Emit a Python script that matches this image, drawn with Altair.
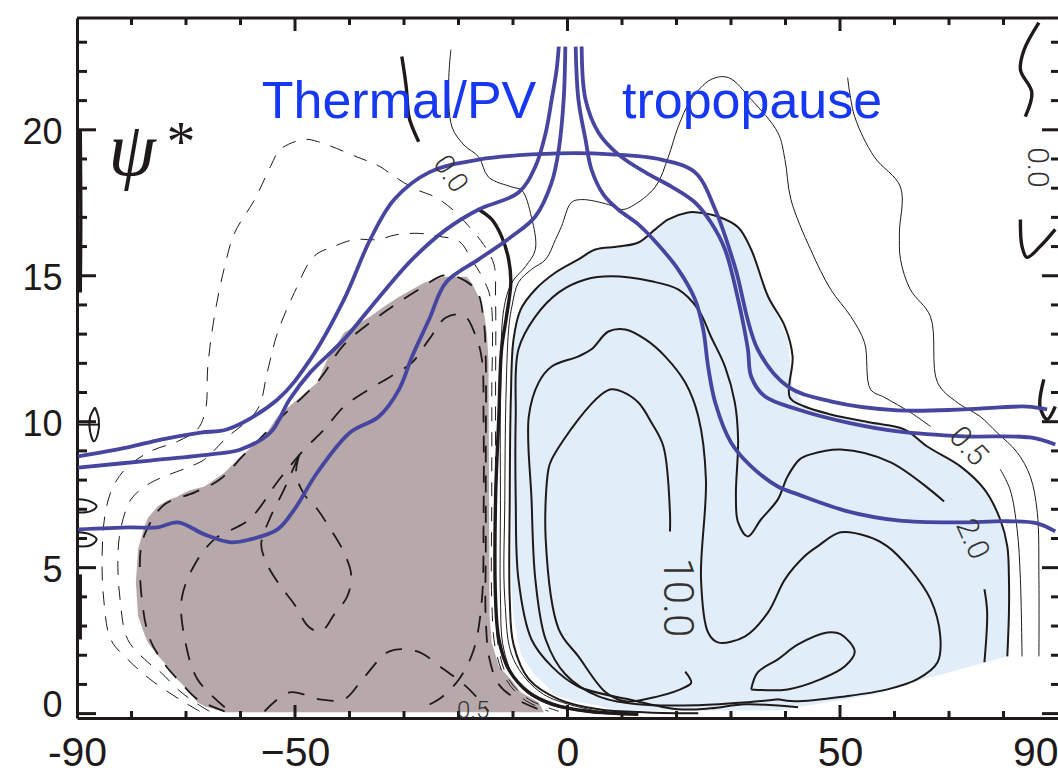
import altair as alt
import pandas as pd

# ---------------- axis values ----------------
X_LABELS = [-90, -50, 0, 50, 90]
Y_LABELS = [0, 5, 10, 15, 20]
X_MINOR = [-80, -70, -60, -40, -30, -20, -10, 10, 20, 30, 40, 60, 70, 80]
X_MAJOR = [-50, 0, 50]
Y_MINOR = [1, 2, 3, 4, 6, 7, 8, 9, 11, 12, 13, 14, 16, 17, 18, 19, 21, 22, 23]
Y_MAJOR = [0, 5, 10, 15, 20]

# ---------------- shaded regions (lat, lower height, upper height) ----------------
BROWN_LAT = [-79.2, -78.8, -77.6, -77.0, -75.2, -73.4, -71.5, -71.0, -69.3, -67.9, -66.6, -62.9, -60.0, -55.6,
             -53.2, -45.9, -44.1, -41.0, -36.2, -33.7, -30.9, -26.3, -22.7, -18.5, -17.6, -16.3, -15.7, -15.2,
             -14.8, -14.5, -14.3, -13.9, -12.6, -9.9, -8.6, -5.3, -4.4]
BROWN_LO = [4.5, 3.34, 2.70, 2.44, 2.0, 1.62, 1.15, 1.07, 0.73, 0.39, 0.25, 0.05, 0.05, 0.05, 0.05, 0.05, 0.05,
            0.05, 0.05, 0.05, 0.05, 0.05, 0.05, 0.05, 0.05, 0.05, 0.05, 0.05, 0.05, 0.05, 0.05, 0.05, 0.05, 0.05,
            0.05, 0.05, 0.05]
BROWN_HI = [4.5, 5.63, 6.41, 6.7, 7.10, 7.3, 7.44, 7.5, 7.65, 7.72, 7.78, 8.26, 8.81, 9.50, 10.18, 11.34, 12.13,
            13.05, 13.60, 13.94, 14.28, 14.76, 14.97, 14.97, 14.76, 14.28, 13.94, 13.60, 13.05, 12.13, 3.34, 2.44,
            1.62, 1.07, 0.73, 0.39, 0.08]

BLUE_LAT = [-10.3, -10.0, -9.0, -8.6, -8.4, -5.9, -4.4, -2.6, -2.2, 2.0, 5.1, 9.3, 13.0, 16.1, 18.5, 22.5, 24.0,
            28.5, 31.6, 33.1, 33.7, 34.4, 35.3, 36.4, 38.2, 38.6, 40.4, 41.3, 43.5, 47.7, 48.3, 55.6, 56.9, 61.8,
            63.3, 66.0, 72.1, 76.5, 79.4, 80.7, 81.0]
BLUE_LO = [4.6, 3.47, 2.44, 2.1, 1.96, 1.3, 1.07, 0.69, 0.63, 0.39, 0.30, 0.11, 0.11, 0.11, 0.11, 0.11, 0.11,
           0.11, 0.11, 0.11, 0.11, 0.11, 0.11, 0.11, 0.11, 0.11, 0.17, 0.19, 0.26, 0.39, 0.41, 0.64, 0.69, 0.99,
           1.07, 1.21, 1.52, 1.75, 1.90, 1.96, 2.3]
BLUE_HI = [12.5, 12.82, 13.5, 13.84, 13.9, 14.53, 14.85, 15.05, 15.11, 15.56, 15.90, 15.98, 16.15, 16.59, 16.93,
           17.17, 17.17, 16.93, 16.59, 16.15, 15.90, 15.56, 15.11, 14.53, 13.84, 13.6, 12.82, 11.2, 10.52, 10.28,
           10.25, 9.97, 9.92, 9.74, 9.6, 9.15, 8.47, 7.68, 6.65, 5.73, 4.6]

# ---------------- thermal / PV tropopause lines ----------------
T1_LAT = [-89.8, -80.7, -74.6, -67.3, -62.4, -53.2, -47.2, -41.0, -36.2, -31.8, -25.4, -16.3, -1.6, 8.0, 17.2,
          23.4, 27.1, 30.7, 34.9, 40.4, 48.3, 60.6, 72.8, 84.3, 88.0]
T1_Z = [8.81, 9.12, 9.39, 9.63, 9.74, 10.76, 12.13, 14.19, 16.24, 17.61, 18.54, 18.98, 19.19, 19.16, 18.98,
        18.54, 17.27, 15.32, 12.48, 11.21, 10.70, 10.39, 10.42, 10.52, 10.42]
T2_LAT = [-89.8, -76.6, -65.5, -60.0, -54.5, -51.0, -47.2, -41.0, -34.9, -28.5, -22.3, -16.3, -9.0, -5.9, -4.0,
          -2.9, -2.0, -1.6]
T2_Z = [8.43, 8.67, 8.88, 9.05, 9.63, 10.76, 11.69, 12.82, 14.19, 15.56, 16.58, 17.27, 17.85, 18.74, 19.90,
        21.04, 22.06, 22.85]
T3_LAT = [-89.8, -80.3, -75.2, -71.5, -66.6, -61.8, -58.2, -53.2, -50.1, -45.9, -39.9, -34.6, -30.9, -28.5,
          -25.4, -22.3, -16.3, -10.2, -5.9, -2.9, -1.6, -0.7, -0.4]
T3_Z = [6.31, 6.38, 6.38, 6.55, 6.14, 5.87, 5.97, 6.31, 7.00, 8.26, 9.63, 10.18, 11.11, 12.24, 13.50, 14.77,
        15.56, 16.35, 17.03, 18.20, 19.33, 21.04, 22.85]
T4_LAT = [2.6, 3.3, 5.7, 9.3, 14.3, 19.0, 23.4, 26.3, 28.9, 31.3, 33.1, 33.7, 36.2, 42.3, 51.4, 60.6, 72.8,
          84.9, 89.5]
T4_Z = [22.85, 21.04, 19.90, 19.16, 18.54, 18.06, 17.51, 16.83, 15.90, 14.19, 12.48, 11.55, 10.87, 10.42, 9.97,
        9.67, 9.50, 9.46, 9.22]
T5_LAT = [1.5, 2.0, 3.3, 4.4, 6.6, 9.3, 13.0, 16.6, 20.3, 23.4, 24.9, 25.8, 27.1, 30.0, 33.7, 38.6, 42.3, 51.4,
          60.6, 71.5, 80.7, 86.2, 89.5]
T5_Z = [22.85, 21.04, 19.67, 18.64, 17.78, 17.27, 16.76, 16.07, 15.22, 14.19, 13.16, 11.89, 10.66, 9.29, 8.47,
        7.78, 7.51, 6.93, 6.62, 6.55, 6.59, 6.52, 6.24]

# ---------------- thin solid contours ----------------
T0_LAT = [-21.4, -21.8, -21.2, -19.0, -16.3, -14.5, -10.2, -8.4, -6.6, -5.9, -7.7, -10.2, -11.7, -12.3, -12.3,
          -12.3, -11.7, -9.0, -3.5, 5.7]
T0_Z = [22.75, 21.62, 20.10, 19.48, 19.07, 18.38, 18.04, 17.93, 17.0, 15.9, 15.32, 14.77, 13.84, 10.76, 7.34,
        3.92, 2.21, 1.0, 0.32, 0.01]
THIN1_LAT = [5.7, -4.4, -9.9, -11.5, -11.5, -11.3, -10.8, -10.2, -9.0, -6.6, -4.0, -2.2, -1.1, 0.7, 2.6, 7.5,
             9.9, 11.7, 16.1, 18.5, 20.3, 22.7, 26.3, 29.5, 33.7, 38.6, 39.9, 41.0, 44.6, 48.3, 52.0, 54.5,
             55.6, 58.2, 62.9, 66.6]
THIN1_Z = [0.08, 0.66, 1.86, 3.92, 7.34, 10.76, 13.16, 13.95, 14.77, 15.22, 15.56, 16.24, 16.69, 17.51, 17.61,
           17.44, 17.27, 17.37, 18.04, 19.07, 20.10, 21.04, 21.72, 21.79, 21.04, 19.90, 18.98, 17.61, 15.90,
           14.53, 13.60, 12.71, 11.11, 10.83, 10.32, 9.84]
THIN1B_LAT = [79.4, 81.2, 82.5, 83.1, 83.4]
THIN1B_Z = [8.37, 7.68, 6.31, 4.60, 1.96]
THIN2_LAT = [51.4, 52.7, 56.3, 61.1, 60.9, 61.1, 62.9, 66.6, 67.9, 71.5, 75.7, 78.8, 82.5, 84.9, 86.2, 86.5,
             86.5]
THIN2_Z = [21.79, 20.45, 19.07, 18.04, 16.46, 15.56, 14.53, 13.60, 11.34, 10.66, 10.18, 9.63, 8.95, 8.13, 6.89,
           4.60, 1.96]

# ---------------- solid positive contours ----------------
P1_LAT = [24.0, 14.8, 5.7, -1.6, -7.1, -9.9, -10.6, -10.6, -10.4, -9.9, -8.6, -5.9, -2.2, 2.0, 5.1, 9.3, 13.0,
          16.1, 18.5, 22.1, 24.0, 27.6, 31.3, 33.7, 36.8, 39.9, 41.3, 40.8, 43.5, 48.3, 55.6, 61.8, 66.0, 72.1,
          76.5, 79.4, 80.7, 81.0, 81.0, 80.7]
P1_Z = [0.01, 0.04, 0.15, 0.49, 1.18, 2.37, 3.92, 7.34, 10.76, 12.82, 13.84, 14.53, 15.11, 15.56, 15.90, 16.0,
        16.14, 16.59, 16.93, 17.17, 17.17, 17.03, 16.66, 15.90, 14.29, 13.26, 12.24, 10.83, 10.52, 10.25, 9.97,
        9.74, 9.15, 8.47, 7.68, 6.65, 5.73, 4.60, 3.47, 1.96]
P2A_LAT = [42.3, 32.6, 26.3, 20.3, 11.2, 2.0, -2.9, -6.6, -9.0, -9.5, -9.5, -9.0, -5.9, -1.6, 3.3, 8.0, 15.4,
           20.3, 24.0, 26.3, 28.9, 30.7, 31.3, 30.9, 31.3, 33.1, 35.5, 38.6, 40.4, 42.6, 44.6, 50.1, 59.3, 69.1]
P2A_Z = [0.22, 0.32, 0.18, 0.15, 0.49, 0.93, 1.62, 2.54, 4.60, 7.34, 10.18, 12.48, 13.60, 14.43, 14.87, 14.98,
         14.81, 14.53, 13.84, 12.92, 11.89, 10.66, 9.39, 7.44, 6.55, 6.07, 6.65, 7.34, 8.13, 8.71, 8.88, 9.05,
         8.61, 7.27]
P2B_LAT = [76.5, 77.0, 76.5]
P2B_Z = [4.26, 3.47, 1.76]
P3_LAT = [38.6, 41.7, 50.9, 58.7, 64.2, 67.9, 68.4, 66.6, 62.9, 58.7, 55.1, 50.1, 45.9, 43.5, 39.9, 36.8, 32.6,
          27.6, 25.8, 24.5, 25.4, 24.0, 21.6, 17.9, 14.3, 10.6, 7.5, 4.4, 2.0, -2.9, -5.3, -7.1, -6.6, -5.9,
          -4.0, -0.4, 5.7, 13.0, 24.0, 33.1, 38.6]
P3_Z = [0.49, 0.42, 0.59, 0.83, 1.18, 1.76, 2.65, 3.92, 4.94, 5.73, 6.07, 6.21, 5.73, 5.39, 4.60, 3.47, 2.65,
        2.44, 2.78, 4.60, 8.02, 10.18, 11.34, 12.24, 12.82, 13.16, 13.09, 12.48, 12.24, 11.89, 11.34, 10.18,
        7.34, 4.60, 2.54, 1.35, 0.59, 0.32, 0.29, 0.39, 0.49]
P4_LAT = [21.6, 22.7, 21.6, 16.6, 10.6, 7.0, 2.0, -1.6, -4.0, -3.5, -2.9, 2.0, 6.2, 8.0, 9.9, 13.0, 15.4, 17.6,
          18.8, 18.8]
P4_Z = [1.44, 1.06, 0.91, 0.59, 0.42, 0.73, 1.96, 2.89, 5.97, 8.37, 8.71, 10.08, 10.93, 11.11, 11.04, 10.66,
        9.97, 9.15, 6.89, 6.24]
P5_LAT = [33.7, 34.9, 38.6, 42.3, 47.7, 50.1, 52.7, 50.9, 46.5, 40.4, 33.7]
P5_Z = [0.83, 1.41, 1.86, 2.37, 2.78, 2.72, 2.13, 1.62, 1.18, 0.83, 0.83]
C1_LAT = [-89.8, -87.6, -86.4, -87.6, -89.8]
C1_Z = [7.34, 7.27, 7.10, 6.93, 6.89]
C2_LAT = [-89.8, -87.6, -86.4, -87.6, -89.8]
C2_Z = [6.21, 6.14, 5.97, 5.76, 5.73]
LL_LAT = [-86.7, -86.0, -86.2, -86.9, -87.6, -87.6, -86.7]
LL_Z = [10.49, 10.08, 9.57, 9.33, 9.67, 10.15, 10.49]
LH_LAT = [-89.8, -86.0]
LH_Z = [9.9, 9.9]

# ---------------- thick zero contours ----------------
W0_LAT = [-30.4, -29.6, -29.1, -28.5, -27.3]
W0_Z = [22.51, 21.48, 20.45, 20.10, 19.59]
W1_LAT = [-16.3, -13.9, -12.1, -10.8, -10.4, -11.2, -12.1, -12.6, -13.2, -13.2, -12.6, -10.8, -7.1, -2.6, 3.8,
          13.0]
W1_Z = [17.27, 16.93, 16.35, 15.56, 14.77, 13.60, 12.48, 10.18, 7.34, 3.92, 2.55, 1.52, 0.73, 0.32, 0.08, -0.02]
E1_LAT = [86.5, 83.8, 83.1, 85.2, 84.0]
E1_Z = [23.67, 22.75, 22.06, 21.28, 20.45]
E2_LAT = [83.1, 83.4, 84.3, 86.7, 89.5]
E2_Z = [16.93, 16.0, 15.63, 16.0, 16.59]
E3_LAT = [87.4, 86.7, 88.0, 89.5]
E3_Z = [11.45, 10.52, 10.08, 10.52]
EL1_LAT = [-89.4, -89.4]
EL1_Z = [4.77, 2.54]
EL2_LAT = [-89.4, -89.3, -89.4]
EL2_Z = [20.0, 17.0, 14.43]

# ---------------- dashed negative contours ----------------
N1_LAT = [-67.5, -71.2, -76.6, -80.7, -83.8, -85.1, -85.4, -84.9, -83.6, -81.2, -76.6, -71.5, -67.9, -66.4,
          -66.0, -64.8, -62.9, -61.1, -57.4, -54.5, -52.7, -48.3, -45.9, -38.6, -34.4, -31.8, -27.8, -24.1,
          -20.5, -18.1, -15.4, -13.5, -13.2, -13.2, -13.2, -13.2, -12.6, -10.8, -7.1, -1.6]
N1_Z = [0.08, 0.49, 1.18, 1.86, 2.54, 3.92, 5.28, 6.76, 7.68, 8.37, 8.98, 9.33, 9.74, 10.42, 11.89, 13.60,
        15.32, 16.46, 17.61, 18.74, 19.33, 19.67, 19.60, 19.07, 18.74, 18.40, 17.96, 17.68, 17.17, 16.69, 16.07,
        15.39, 14.19, 10.76, 7.34, 3.92, 2.20, 1.18, 0.49, 0.08]
N2_LAT = [-65.7, -68.4, -71.5, -74.6, -77.0, -80.7, -82.1, -82.5, -82.0, -80.1, -77.0, -73.9, -69.7, -66.6,
          -62.9, -56.9, -55.1, -53.2, -50.1, -46.5, -42.8, -39.1, -34.9, -31.3, -27.1, -23.6, -19.9, -17.6,
          -15.4, -14.1, -13.9, -13.9, -13.9, -13.2, -11.3, -8.0, -3.5]
N2_Z = [0.08, 0.39, 0.83, 1.41, 1.76, 2.54, 3.92, 5.28, 6.31, 7.34, 7.85, 8.13, 8.43, 8.71, 9.39, 10.42, 11.69,
        13.05, 14.43, 15.67, 16.01, 16.24, 16.24, 16.41, 16.45, 16.35, 16.18, 15.56, 14.87, 14.19, 10.76, 7.34,
        3.92, 2.20, 1.18, 0.49, 0.08]
N3_LAT = [-62.9, -67.9, -71.0, -73.9, -76.6, -78.1, -78.3, -77.0, -73.9, -68.4, -63.8, -59.3, -52.9, -45.5,
          -41.0, -33.7, -27.3, -22.7, -19.6, -16.6, -15.4, -15.0, -15.0, -15.0, -15.0, -14.3, -12.6, -9.3, -5.3]
N3_Z = [0.08, 0.49, 1.07, 1.69, 2.54, 3.92, 5.63, 6.38, 7.17, 7.58, 8.02, 8.88, 10.08, 11.45, 12.64, 13.74,
        14.53, 15.01, 14.91, 14.46, 13.50, 12.13, 9.05, 5.63, 3.23, 1.86, 1.0, 0.49, 0.15]
N4_LAT = [-62.9, -67.9, -70.2, -70.8, -68.4, -64.8, -58.4, -52.9, -48.3, -44.6, -41.0, -36.4, -31.8, -28.5,
          -25.4, -22.3, -19.0, -16.8, -15.7, -15.4, -15.4, -15.7, -17.2, -19.9, -23.6, -27.3]
N4_Z = [0.22, 1.18, 2.54, 3.92, 5.11, 5.97, 6.65, 8.02, 9.05, 9.74, 10.52, 11.11, 11.62, 12.03, 12.82, 13.57,
        13.64, 12.92, 12.13, 10.08, 6.65, 3.92, 2.20, 1.18, 0.49, 0.15]
N5_LAT = [-49.2, -49.8, -48.3, -45.9, -43.7, -41.3, -39.7, -40.4, -42.8, -45.2, -47.4, -50.1, -52.9, -55.1,
          -56.2, -54.7, -52.0, -49.2]
N5_Z = [8.88, 8.20, 7.51, 7.0, 6.38, 5.63, 4.77, 4.02, 3.40, 2.82, 2.96, 3.74, 4.43, 5.11, 5.80, 6.65, 7.68,
        8.88]
N6_LAT = [-55.6, -51.0, -45.5, -41.0, -37.3, -32.7, -27.6, -22.7, -19.0, -16.3, -14.5]
N6_Z = [0.08, 0.73, 0.49, 0.49, 1.25, 2.13, 2.13, 1.52, 1.0, 0.49, 0.08]

# ---------------- text ----------------
CLAB_TEXT = ["0.0", "0.0", "0.5", "2.0", "10.0", "0.5"]
CLAB_LAT = [-21.6, 86.1, 73.5, 74.2, 20.1, -17.3]
CLAB_Z = [18.47, 18.71, 9.15, 5.97, 3.98, 0.08]
TITLE_TEXT = ["Thermal/PV", "tropopause"]
TITLE_LAT = [-56.1, 10.0]
TITLE_Z = [20.42, 20.42]
PSI_LAT, PSI_Z = -79.9, 18.45
STAR_LAT, STAR_Z = -70.9, 18.93

# ---------------- styling ----------------
INK = "#1f1a1a"
BROWN = "#b7a9a9"
BLUEFILL = "#e1edf8"
TROP = "#4646a0"
TEXTBLUE = "#1638f2"
W, H = 981, 700

XS = alt.Scale(domain=[-90, 90], nice=False, zero=False)
YS = alt.Scale(domain=[-0.15, 23.83], nice=False, zero=False)

XAXIS = alt.Axis(values=X_LABELS, ticks=False, tickSize=0, domain=True, domainWidth=3, domainColor=INK,
                 labelFontSize=41, labelPadding=15, labelFont="Liberation Sans", labelColor=INK,
                 labelFlush=False, grid=False,
                 labelAlign={"condition": {"test": "datum.value >= 90", "value": "right"}, "value": "center"},
                 labelExpr="datum.value == -90 ? '-90' : (datum.value < 0 ? '\u2212' + abs(datum.value) : datum.label)")
YAXIS = alt.Axis(values=Y_LABELS, ticks=False, tickSize=0, domain=True, domainWidth=3, domainColor=INK,
                 labelFontSize=36, labelPadding=15, labelFont="Liberation Sans", labelColor=INK, grid=False,
                 labelOffset={"condition": {"test": "datum.value == 0", "value": -8}, "value": 3})


def X(field):
    return alt.X(field, scale=XS, axis=XAXIS, title=None)


def Y(field):
    return alt.Y(field, scale=YS, axis=YAXIS, title=None)


def path(name, lats, zs):
    return pd.DataFrame({"id": name, "lat": lats, "z": zs, "k": list(range(len(lats)))})


def line_layer(paths, color, width, dash=None):
    df = pd.concat([path(n, a, b) for n, a, b in paths], ignore_index=True)
    kw = dict(color=color, strokeWidth=width, clip=True, strokeJoin="round", interpolate="catmull-rom")
    if dash:
        kw["strokeDash"] = dash
    return alt.Chart(df).mark_line(**kw).encode(
        x=X("lat:Q"), y=Y("z:Q"), detail="id:N", order="k:Q")


def region(lats, lo, hi, color):
    return alt.Chart(pd.DataFrame({"lat": lats, "lo": lo, "hi": hi})).mark_area(
        color=color, opacity=1, clip=True).encode(x=X("lat:Q"), y=Y("lo:Q"), y2="hi:Q")


brown = region(BROWN_LAT, BROWN_LO, BROWN_HI, BROWN)
blue = region(BLUE_LAT, BLUE_LO, BLUE_HI, BLUEFILL)

thin = line_layer([("t0", T0_LAT, T0_Z), ("th1", THIN1_LAT, THIN1_Z), ("th1b", THIN1B_LAT, THIN1B_Z),
                   ("th2", THIN2_LAT, THIN2_Z)], INK, 1.0)
solid = line_layer([("p1", P1_LAT, P1_Z), ("p2a", P2A_LAT, P2A_Z), ("p2b", P2B_LAT, P2B_Z),
                    ("p3", P3_LAT, P3_Z), ("p4", P4_LAT, P4_Z), ("p5", P5_LAT, P5_Z),
                    ("c1", C1_LAT, C1_Z), ("c2", C2_LAT, C2_Z), ("ll", LL_LAT, LL_Z),
                    ("lh", LH_LAT, LH_Z)], INK, 2.0)
thick = line_layer([("w0", W0_LAT, W0_Z), ("w1", W1_LAT, W1_Z), ("e1", E1_LAT, E1_Z), ("e2", E2_LAT, E2_Z),
                    ("e3", E3_LAT, E3_Z), ("el1", EL1_LAT, EL1_Z), ("el2", EL2_LAT, EL2_Z)], INK, 3.4)
dthin = line_layer([("n1", N1_LAT, N1_Z), ("n2", N2_LAT, N2_Z)], INK, 1.0, [14, 11])
dthick = line_layer([("n3", N3_LAT, N3_Z), ("n4", N4_LAT, N4_Z), ("n5", N5_LAT, N5_Z),
                     ("n6", N6_LAT, N6_Z)], INK, 1.8, [17, 13])
trop = line_layer([("T1", T1_LAT, T1_Z), ("T2", T2_LAT, T2_Z), ("T3", T3_LAT, T3_Z),
                   ("T4", T4_LAT, T4_Z), ("T5", T5_LAT, T5_Z)], TROP, 3.8)


def ytick(vals, x0, x1):
    return alt.Chart(pd.DataFrame({"v": vals})).mark_rule(color=INK, strokeWidth=3).encode(
        y=Y("v:Q"), x=alt.value(x0), x2=alt.value(x1))


def xtick(vals, y0, y1):
    return alt.Chart(pd.DataFrame({"v": vals})).mark_rule(color=INK, strokeWidth=3).encode(
        x=X("v:Q"), y=alt.value(y0), y2=alt.value(y1))


ticks = [ytick(Y_MINOR, 0, 10), ytick(Y_MAJOR, 0, 19), ytick(Y_MINOR, W, W - 7), ytick(Y_MAJOR, W, W - 16),
         xtick(X_MINOR, 0, 7), xtick(X_MAJOR, 0, 13), xtick(X_MINOR, H, H - 7), xtick(X_MAJOR, H, H - 13)]
top_frame = alt.Chart(pd.DataFrame({"v": [0]})).mark_rule(color=INK, strokeWidth=3).encode(
    x=alt.value(0), x2=alt.value(W), y=alt.value(0))

# contour labels: (angle, font size) per label
clab_style = [(55, 28), (90, 30), (48, 30), (66, 30), (90, 42), (0, 24)]
clabs = []
for i, (ang, fs) in enumerate(clab_style):
    d = pd.DataFrame({"lat": [CLAB_LAT[i]], "z": [CLAB_Z[i]], "t": [CLAB_TEXT[i]]})
    clabs.append(alt.Chart(d).mark_text(font="Roboto", fontWeight=300, fontSize=fs, angle=ang, color="#333333",
                                        align="center", baseline="middle").encode(
        x=X("lat:Q"), y=Y("z:Q"), text="t:N"))

titles = alt.Chart(pd.DataFrame({"lat": TITLE_LAT, "z": TITLE_Z, "t": TITLE_TEXT})).mark_text(
    font="Liberation Sans", fontSize=52, color=TEXTBLUE, align="left", baseline="alphabetic").encode(
    x=X("lat:Q"), y=Y("z:Q"), text="t:N")
psi = alt.Chart(pd.DataFrame({"lat": [PSI_LAT], "z": [PSI_Z], "t": ["ψ"]})).mark_text(
    font="Liberation Serif", fontStyle="italic", fontSize=76, color=INK, align="center",
    baseline="alphabetic").encode(x=X("lat:Q"), y=Y("z:Q"), text="t:N")
star = alt.Chart(pd.DataFrame({"lat": [STAR_LAT], "z": [STAR_Z], "t": ["*"]})).mark_text(
    font="Liberation Serif", fontSize=58, color=INK, align="center", baseline="alphabetic").encode(
    x=X("lat:Q"), y=Y("z:Q"), text="t:N")

chart = alt.layer(blue, brown, thin, solid, dthin, dthick, thick, trop, *ticks, top_frame, *clabs,
                  titles, psi, star).properties(
    width=W, height=H,
    padding={"left": 77, "top": 18, "right": 0, "bottom": 61},
    autosize=alt.AutoSizeParams(type="none"),
).configure_view(stroke=None).configure_axis(grid=False)

chart.save("out.html", embed_options={"renderer": "svg", "actions": False})
